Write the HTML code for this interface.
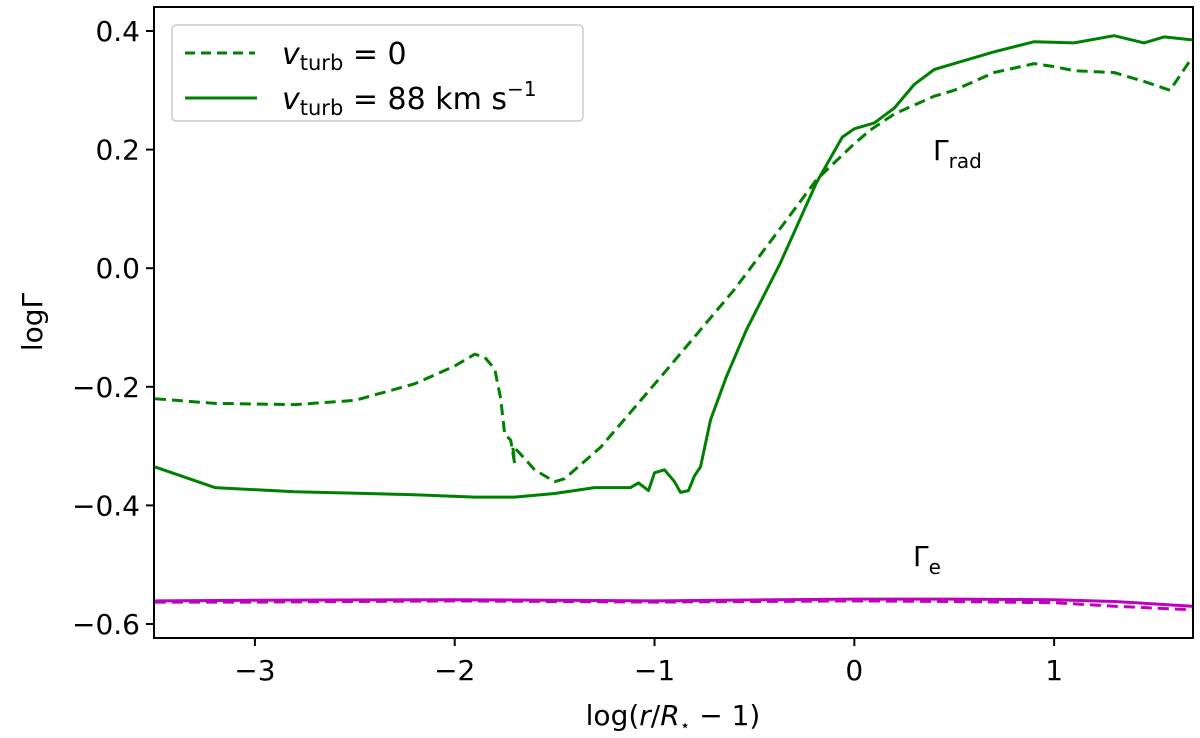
<!DOCTYPE html>
<html><head><meta charset="utf-8"><style>
body{margin:0;background:#fff;}
svg{display:block;font-family:"DejaVu Sans","Liberation Sans",sans-serif;}
</style></head><body>
<svg id="chart" width="1200" height="738">
<g id="marks"></g>
<rect x="154" y="7" width="1039" height="631" fill="none" stroke="#000" stroke-width="2"/>
<g id="axes"></g>
<text x="933" y="160" font-size="28">Γ<tspan font-size="20" dy="8">rad</tspan></text>
<text x="913" y="566" font-size="28">Γ<tspan font-size="20" dy="8">e</tspan></text>
<text x="673" y="725" font-size="28" text-anchor="middle">log(<tspan font-style="italic">r</tspan>/<tspan font-style="italic">R</tspan><tspan font-size="17" dy="6">⋆</tspan><tspan dy="-6"> − 1)</tspan></text>
<text transform="translate(42,322) rotate(-90)" font-size="28" text-anchor="middle">logΓ</text>
<g>
<rect x="172" y="25" width="411" height="96" rx="4" fill="#fff" stroke="#ccc" stroke-width="1.5"/>
<line x1="185" y1="53" x2="255" y2="53" stroke="#008000" stroke-width="3" stroke-dasharray="10,6"/>
<line x1="185" y1="98" x2="257" y2="98" stroke="#008000" stroke-width="3"/>
<text x="282" y="64" font-size="30"><tspan font-style="italic">v</tspan><tspan font-size="21" dy="6">turb</tspan><tspan dy="-6"> = 0</tspan></text>
<text x="282" y="109" font-size="30"><tspan font-style="italic">v</tspan><tspan font-size="21" dy="6">turb</tspan><tspan dy="-6"> = 88 km s</tspan><tspan font-size="20" dy="-13">−1</tspan></text>
</g>
</svg>
<script>
const xTicks=[-3,-2,-1,0,1];
const yTicks=[-0.6,-0.4,-0.2,0.0,0.2,0.4];
const yTickLabels=["−0.6","−0.4","−0.2","0.0","0.2","0.4"];
const xTickLabels=["−3","−2","−1","0","1"];
const radDashedX=[-3.5,-3.2,-2.8,-2.5,-2.2,-2,-1.9,-1.85,-1.8,-1.77,-1.75,-1.72,-1.7,-1.71,-1.68,-1.6,-1.5,-1.45,-1.27,-0.94,-0.6,-0.34,-0.19,0,0.08,0.2,0.4,0.5,0.7,0.9,1.0,1.1,1.3,1.45,1.58,1.69];
const radDashedY=[-0.22,-0.228,-0.23,-0.223,-0.195,-0.165,-0.145,-0.15,-0.17,-0.22,-0.28,-0.29,-0.33,-0.3,-0.31,-0.34,-0.36,-0.355,-0.302,-0.172,-0.036,0.081,0.149,0.21,0.233,0.26,0.29,0.3,0.33,0.345,0.34,0.333,0.33,0.315,0.3,0.355];
const radSolidX=[-3.5,-3.2,-2.8,-2.2,-1.9,-1.7,-1.5,-1.3,-1.12,-1.08,-1.03,-1.0,-0.95,-0.9,-0.87,-0.83,-0.8,-0.77,-0.72,-0.64,-0.54,-0.37,-0.19,-0.06,0,0.1,0.2,0.3,0.4,0.5,0.7,0.9,1.1,1.3,1.45,1.55,1.69];
const radSolidY=[-0.335,-0.37,-0.377,-0.382,-0.386,-0.386,-0.38,-0.37,-0.37,-0.362,-0.375,-0.345,-0.34,-0.36,-0.378,-0.375,-0.35,-0.335,-0.256,-0.183,-0.104,0.009,0.144,0.221,0.235,0.245,0.27,0.31,0.335,0.345,0.365,0.382,0.38,0.392,0.38,0.39,0.385];
const eX=[-3.5,-3,-2,-1,0,0.5,1,1.3,1.69];
const eSolidY=[-0.561,-0.56,-0.559,-0.561,-0.558,-0.558,-0.559,-0.562,-0.57];
const eDashedY=[-0.563,-0.563,-0.561,-0.563,-0.561,-0.562,-0.564,-0.57,-0.576];
const X0=-3.505,X1=1.695,PX0=154,PX1=1193;
const xs=v=>PX0+(v-X0)/(X1-X0)*(PX1-PX0);
const ys=v=>624-(v+0.6)*593;
const NS="http://www.w3.org/2000/svg";
const marks=document.getElementById('marks'),axes=document.getElementById('axes');
function line(X,Y,color,dash,name){
  const p=document.createElementNS(NS,'polyline');
  p.setAttribute('points',X.map((x,i)=>xs(x).toFixed(1)+','+ys(Y[i]).toFixed(1)).join(' '));
  p.setAttribute('fill','none');p.setAttribute('stroke',color);p.setAttribute('stroke-width','3');
  p.setAttribute('stroke-linejoin','round');
  if(dash)p.setAttribute('stroke-dasharray','11,6');
  
  
  marks.appendChild(p);
}
line(eX,eDashedY,'#c000c0',true,'gamma-e-dashed-line');
line(eX,eSolidY,'#c000c0',false,'gamma-e-solid-line');
line(radDashedX,radDashedY,'#008000',true,'gamma-rad-dashed-line');
line(radSolidX,radSolidY,'#008000',false,'gamma-rad-solid-line');
xTicks.forEach((t,i)=>{
  const x=xs(t);
  const l=document.createElementNS(NS,'line');
  l.setAttribute('x1',x);l.setAttribute('x2',x);l.setAttribute('y1',638);l.setAttribute('y2',646);l.setAttribute('stroke','#000');l.setAttribute('stroke-width','2');
  
  
  axes.appendChild(l);
  const tx=document.createElementNS(NS,'text');
  tx.setAttribute('x',x);tx.setAttribute('y',680);tx.setAttribute('font-size','28');tx.setAttribute('text-anchor','middle');
  tx.textContent=xTickLabels[i];
  
  
  axes.appendChild(tx);
});
yTicks.forEach((t,i)=>{
  const y=ys(t);
  const l=document.createElementNS(NS,'line');
  l.setAttribute('x1',146);l.setAttribute('x2',154);l.setAttribute('y1',y);l.setAttribute('y2',y);l.setAttribute('stroke','#000');l.setAttribute('stroke-width','2');
  
  
  axes.appendChild(l);
  const tx=document.createElementNS(NS,'text');
  tx.setAttribute('x',140);tx.setAttribute('y',y+10);tx.setAttribute('font-size','28');tx.setAttribute('text-anchor','end');
  tx.textContent=yTickLabels[i];
  
  
  axes.appendChild(tx);
});
</script>
</body></html>
